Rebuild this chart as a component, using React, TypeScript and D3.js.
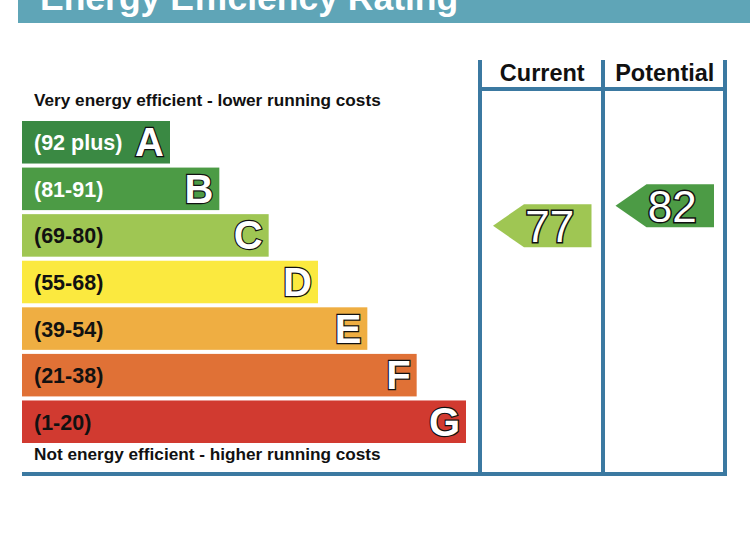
import * as d3 from "d3"
import React, { useRef, useEffect } from "react"

const bands = ["A", "B", "C", "D", "E", "F", "G"]
const rangeLabels = ["(92 plus)", "(81-91)", "(69-80)", "(55-68)", "(39-54)", "(21-38)", "(1-20)"]
const rangeMin = [92, 81, 69, 55, 39, 21, 1]
const rangeMax = [100, 91, 80, 68, 54, 38, 20]
const bandColors = ["#3a8943", "#4c9b45", "#9fc653", "#fbe93f", "#efae42", "#e07136", "#d13a30"]
const labelColors = ["#ffffff", "#ffffff", "#111111", "#111111", "#111111", "#111111", "#111111"]
const columns = ["Current", "Potential"]
const ratings = [77, 82]

const W = 750,
  H = 536
const lineColor = "#3b79a1"

function App() {
  const ref = useRef<SVGSVGElement>(null)

  useEffect(() => {
    const svg = d3.select(ref.current)
    svg.selectAll("*").remove()
    const font = "'Liberation Sans', Arial, sans-serif"

    // header band (title is mostly cropped off the top)
    svg.append("rect").attr("x", 18).attr("y", 0).attr("width", W - 18).attr("height", 23).attr("fill", "#5fa5b7")
    svg
      .append("text")
      .attr("x", 40)
      .attr("y", 10)
      .attr("fill", "#fff")
      .style("font", `bold 35.5px ${font}`)
      .text("Energy Efficiency Rating")

    const y = d3.scaleBand().domain(bands).range([121, 121 + 46 * 7]).paddingInner(4 / 46).paddingOuter(0)
    const xRight = d3.scaleLinear().domain([0, bands.length - 1]).range([170, 466])
    const left = 22
    const bh = y.bandwidth()

    const g = svg.append("g")
    const rows = g
      .selectAll("g.row")
      .data(bands)
      .enter()
      .append("g")
      .attr("class", "row")

    rows
      .append("rect")
      .attr("x", left)
      .attr("y", (d) => y(d)!)
      .attr("width", (d, i) => xRight(i) - left)
      .attr("height", bh)
      .attr("fill", (d, i) => bandColors[i])

    rows
      .append("text")
      .attr("x", 34)
      .attr("y", (d) => y(d)! + bh / 2 + 8)
      .attr("fill", (d, i) => labelColors[i])
      .style("font", `bold 21.5px ${font}`)
      .text((d, i) => rangeLabels[i])

    rows
      .append("text")
      .attr("x", (d, i) => xRight(i) - 6)
      .attr("y", (d) => y(d)! + bh / 2 + 14)
      .attr("text-anchor", "end")
      .attr("fill", "#fff")
      .attr("stroke", "#111")
      .attr("stroke-width", 2.4)
      .attr("paint-order", "stroke")
      .style("font", `bold 40px ${font}`)
      .text((d) => d)

    svg
      .append("text")
      .attr("x", 34)
      .attr("y", 106)
      .attr("fill", "#111")
      .style("font", `bold 17.2px ${font}`)
      .text("Very energy efficient - lower running costs")
    svg
      .append("text")
      .attr("x", 34)
      .attr("y", 460)
      .attr("fill", "#111")
      .style("font", `bold 17.2px ${font}`)
      .text("Not energy efficient - higher running costs")

    // column frame
    const colX = d3.scaleBand().domain(columns).range([480, 725])
    const top = 60,
      bottom = 474
    const lines = g.append("g").attr("stroke", lineColor).attr("stroke-width", 4)
    ;[480, 603, 725].forEach((x) => {
      lines.append("line").attr("x1", x).attr("x2", x).attr("y1", top).attr("y2", bottom)
    })
    lines.append("line").attr("x1", 480).attr("x2", 727).attr("y1", 89).attr("y2", 89)
    lines.append("line").attr("x1", 22).attr("x2", 727).attr("y1", bottom).attr("y2", bottom)

    svg
      .selectAll("text.col")
      .data(columns)
      .enter()
      .append("text")
      .attr("class", "col")
      .attr("x", (d) => colX(d)! + colX.bandwidth() / 2 + 1)
      .attr("y", 81)
      .attr("text-anchor", "middle")
      .attr("fill", "#111")
      .style("font", `bold 23.5px ${font}`)
      .text((d) => d)

    // rating arrows, positioned within their band by value
    const ah = 43
    ratings.forEach((v, ci) => {
      const bi = rangeMin.findIndex((m, i) => v >= m && v <= rangeMax[i])
      const frac = (v - rangeMin[bi]) / (rangeMax[bi] - rangeMin[bi])
      const cy = y(bands[bi])! + bh - frac * bh
      const x0 = colX(columns[ci])! + 13
      const x1 = colX(columns[ci])! + colX.bandwidth() - 11
      const tip = 31
      const path = d3.path()
      path.moveTo(x0, cy)
      path.lineTo(x0 + tip, cy - ah / 2)
      path.lineTo(x1, cy - ah / 2)
      path.lineTo(x1, cy + ah / 2)
      path.lineTo(x0 + tip, cy + ah / 2)
      path.closePath()
      svg.append("path").attr("d", path.toString()).attr("fill", bandColors[bi])
      svg
        .append("text")
        .attr("x", (x0 + tip + x1) / 2 - 8)
        .attr("y", cy + 16)
        .attr("text-anchor", "middle")
        .attr("fill", "#fff")
        .attr("stroke", "#111")
        .attr("stroke-width", 3)
        .attr("paint-order", "stroke")
        .style("font", `44px ${font}`)
        .text(v)
    })
  }, [])

  return (
    <svg
      ref={ref}
      width={W}
      height={H}
      style={{ position: "absolute", left: 0, top: 0, background: "#fff" }}
    ></svg>
  )
}

export default App
